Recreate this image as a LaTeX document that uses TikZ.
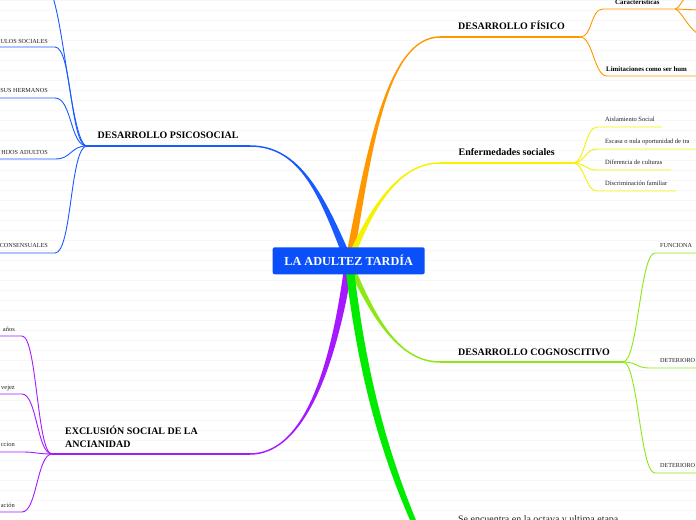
\documentclass[tikz,border=0pt]{standalone}
\usepackage{fontspec}
\setmainfont{Liberation Serif}
\usetikzlibrary{calc}
\definecolor{cblue}{RGB}{25,90,255}
\definecolor{corange}{RGB}{255,152,0}
\definecolor{cyellow}{RGB}{245,242,0}
\definecolor{clime}{RGB}{140,232,20}
\definecolor{cgreen}{RGB}{0,235,0}
\definecolor{cpurple}{RGB}{165,25,255}
\definecolor{cbox}{RGB}{10,80,250}
\definecolor{txt}{RGB}{35,35,35}
\definecolor{bgl}{RGB}{247,247,247}
% colour, start, control 1, control 2, end, start half width, end offset vector
\newcommand{\taperline}[7]{%
  \fill[#1] ($(#2)+(-#6,0)$) .. controls ($(#3)+({-0.6*#6},0)$) and ($(#4)+(#7)$) .. ($(#5)+(#7)$)
    -- ($(#5)-(#7)$) .. controls ($(#4)-(#7)$) and ($(#3)+({0.6*#6},0)$) .. ($(#2)+(#6,0)$) -- cycle;}
\begin{document}
\begin{tikzpicture}[x=1bp,y=-1bp,
  mainline/.style={line width=1.5bp},
  subline/.style={line width=0.9bp},
  title/.style={font=\bfseries\fontsize{10}{12.3}\selectfont, inner sep=0, anchor=base west, text=black},
  caplab/.style={font=\fontsize{6.2}{7}\selectfont, inner sep=0, text=txt},
  smlab/.style={font=\fontsize{6.5}{7}\selectfont, inner sep=0, text=txt},
  boldlab/.style={font=\bfseries\fontsize{6.9}{7.5}\selectfont, inner sep=0, text=black}]
\useasboundingbox (0,0) rectangle (696,520);
\fill[white] (0,0) rectangle (696,520);
\foreach \yy in {0,10,...,520} \draw[bgl, line width=0.6bp] (0,\yy) -- (696,\yy);

% centre and main branch points
\coordinate (C) at (349,262);
\coordinate (bE) at (250,146);  \coordinate (hb) at (87,146);
\coordinate (oE) at (440,37);   \coordinate (ho) at (580,37);
\coordinate (yE) at (440,163);  \coordinate (hy) at (573,163);
\coordinate (lE) at (440,362);  \coordinate (hl) at (623,362);
\coordinate (pE) at (250,454);  \coordinate (hp) at (52,454);
\coordinate (gE) at (424,545);

% main tapered branches
\taperline{cblue}{C}{322,195}{300,146}{bE}{4.2}{0,0.75}
\taperline{corange}{C}{368,160}{385,37}{oE}{4.2}{0,-0.75}
\taperline{cyellow}{C}{372,205}{400,163}{yE}{3.5}{0,-0.75}
\taperline{clime}{C}{374,320}{400,362}{lE}{3.5}{0,0.75}
\taperline{cpurple}{C}{332,380}{300,454}{pE}{4.2}{0,-0.75}
\fill[cgreen] ($(C)+(-4.2,0)$) .. controls (356,360) and (376,450) .. ($(gE)+(-2.7,0)$)
   -- ($(gE)+(2.7,0)$) .. controls (384,450) and (364,360) .. ($(C)+(4.2,0)$) -- cycle;

% title underlines
\draw[mainline, cblue] (bE) -- (hb);
\draw[mainline, corange] (oE) -- (ho);
\draw[mainline, cyellow] (yE) -- (hy);
\draw[mainline, clime] (lE) -- (hl);
\draw[mainline, cpurple] (pE) -- (hp);

% blue children
\coordinate (b0) at (45,-15);
\coordinate (b1) at (55,47);  \coordinate (b1e) at (-2,47);
\coordinate (b2) at (55,98);  \coordinate (b2e) at (-2,98);
\coordinate (b3) at (55,159); \coordinate (b3e) at (-2,159);
\coordinate (b4) at (55,253); \coordinate (b4e) at (-2,253);
\draw[subline, cblue] (hb) .. controls +(-17,0) and +(17,0) .. (b0);
\foreach \k in {1,2,3,4}
  \draw[subline, cblue] (hb) .. controls +(-17,0) and +(17,0) .. (b\k) -- (b\k e);

% purple children
\coordinate (p1) at (22,336); \coordinate (p1e) at (-2,336);
\coordinate (p2) at (22,394); \coordinate (p2e) at (-2,394);
\coordinate (p3) at (22,452); \coordinate (p3e) at (-2,452);
\coordinate (p4) at (22,512); \coordinate (p4e) at (-2,512);
\foreach \k in {1,2,3,4}
  \draw[subline, cpurple] (hp) .. controls +(-15,0) and +(15,0) .. (p\k) -- (p\k e);

% orange children
\coordinate (o1) at (603,9);  \coordinate (h2) at (675,9); \coordinate (o1e) at (700,10);
\coordinate (o2) at (607,76); \coordinate (o2e) at (700,76);
\coordinate (o3) at (705,36); \coordinate (o4) at (705,-20);
\draw[subline, corange] (ho) .. controls +(13,0) and +(-13,0) .. (o1) -- (h2) -- (o1e);
\draw[subline, corange] (ho) .. controls +(13,0) and +(-13,0) .. (o2) -- (o2e);
\draw[subline, corange] (h2) .. controls +(6,0) and +(-14,0) .. (o3);
\draw[subline, corange] (h2) .. controls +(6,0) and +(-14,0) .. (o4);

% yellow children
\coordinate (y1) at (597,127); \coordinate (y1e) at (662,127);
\coordinate (y2) at (597,149); \coordinate (y2e) at (700,149);
\coordinate (y3) at (597,170); \coordinate (y3e) at (671,170);
\coordinate (y4) at (597,191); \coordinate (y4e) at (676,191);
\foreach \k in {1,2,3,4}
  \draw[subline, cyellow] (hy) .. controls +(12,0) and +(-12,0) .. (y\k) -- (y\k e);

% lime children
\coordinate (l1) at (655,253); \coordinate (l1e) at (700,253);
\coordinate (l2) at (650,368); \coordinate (l2e) at (700,368);
\coordinate (l3) at (655,473); \coordinate (l3e) at (700,473);
\foreach \k in {1,2,3}
  \draw[subline, clime] (hl) .. controls +(15,0) and +(-15,0) .. (l\k) -- (l\k e);

% central node
\node[fill=cbox, rounded corners=2bp, minimum width=152bp, minimum height=27bp, inner sep=0,
  font=\bfseries\fontsize{12.3}{14}\selectfont, text=white] (root) at (348.7,260.8) {LA ADULTEZ TARDÍA};

% titles
\node[title] (tpsi) at (97.5,138.3) {DESARROLLO PSICOSOCIAL};
\node[title] (tfis) at (458,29.5) {DESARROLLO FÍSICO};
\node[title] (tenf) at (458.5,155.7) {Enfermedades sociales};
\node[title] (tcog) at (458,355) {DESARROLLO COGNOSCITIVO};
\node[title, anchor=south west, align=left] (texc) at (65,447.5) {EXCLUSIÓN SOCIAL DE LA\\ANCIANIDAD};
\node[font=\fontsize{10}{12}\selectfont, inner sep=0, anchor=base west, text=txt] (tbot) at (458,522) {Se encuentra en la octava y ultima etapa};

% blue labels
\node[caplab, anchor=base east] (lb1) at (48,44) {ULOS SOCIALES};
\node[caplab, anchor=base east] (lb2) at (48,93) {SUS HERMANOS};
\node[caplab, anchor=base east] (lb3) at (48,155) {HIJOS ADULTOS};
\node[caplab, anchor=base east] (lb4) at (48,248) {CONSENSUALES};
% purple labels
\node[smlab, anchor=base east] (lp1) at (15,331) {años};
\node[smlab, anchor=base east] (lp2) at (15,389) {vejez};
\node[smlab, anchor=base east] (lp3) at (15,446.5) {ccion};
\node[smlab, anchor=base east] (lp4) at (15,507) {ación};
% orange labels
\node[boldlab, anchor=base west] (lo1) at (615,4.5) {Características};
\node[boldlab, anchor=base west] (lo2) at (606,71.5) {Limitaciones como ser hum};
% yellow labels
\node[smlab, anchor=base west] (ly1) at (605,121.5) {Aislamiento Social};
\node[smlab, anchor=base west] (ly2) at (605,143.5) {Escasa o nula oportunidad de tra};
\node[smlab, anchor=base west] (ly3) at (605,164.5) {Diferencia de culturas};
\node[smlab, anchor=base west] (ly4) at (605,186) {Discriminación familiar};
% lime labels
\node[caplab, anchor=base west] (ll1) at (660,247.5) {FUNCIONA};
\node[caplab, anchor=base west] (ll2) at (660,362) {DETERIORO};
\node[caplab, anchor=base west] (ll3) at (660,467) {DETERIORO};
\end{tikzpicture}
\end{document}
